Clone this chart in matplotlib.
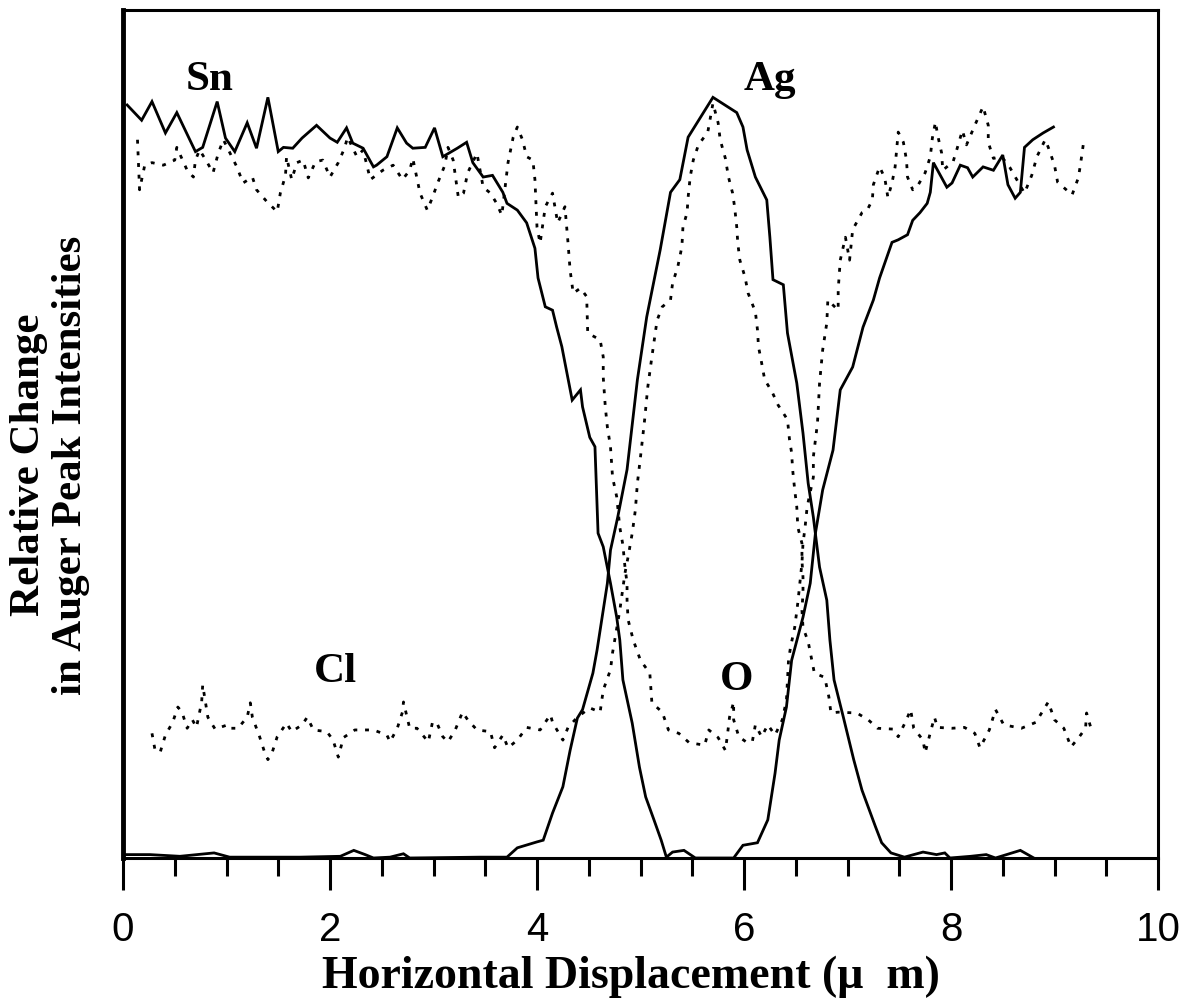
import matplotlib
matplotlib.use("Agg")
import matplotlib.pyplot as plt
from matplotlib.ticker import MultipleLocator

# Auger line scan across a Ag particle on tin oxide
# x in micrometres, y in % of axis height

sn_x = [0.04, 0.18, 0.28, 0.41, 0.52, 0.70, 0.77, 0.91, 0.99, 1.08, 1.20, 1.29, 1.40, 1.50,
        1.55, 1.64, 1.73, 1.87, 2.00, 2.07, 2.16, 2.22, 2.32, 2.42, 2.45, 2.55, 2.65, 2.74,
        2.80, 2.92, 3.01, 3.09, 3.23, 3.32, 3.38, 3.48, 3.57, 3.67, 3.71, 3.81, 3.90, 3.98,
        4.01, 4.08, 4.15, 4.19, 4.24, 4.27, 4.34, 4.42, 4.44, 4.51, 4.56, 4.59, 4.64, 4.71,
        4.77, 4.80, 4.83, 4.92, 4.99, 5.05, 5.13, 5.20, 5.25, 5.31, 5.42, 5.53, 5.90, 5.99,
        6.13, 6.23, 6.30, 6.34, 6.41, 6.46, 6.57, 6.64, 6.69, 6.76, 6.86, 6.93, 7.05, 7.15,
        7.25, 7.31, 7.43, 7.49, 7.58, 7.63, 7.70, 7.77, 7.80, 7.83, 7.96, 8.01, 8.09, 8.16,
        8.21, 8.31, 8.41, 8.50, 8.55, 8.62, 8.67, 8.71, 8.79, 8.89, 8.99]
sn_y = [88.8, 87.0, 89.2, 85.5, 87.9, 83.3, 83.8, 89.2, 84.9, 83.3, 86.7, 83.7, 89.7, 83.3,
        83.8, 83.7, 84.9, 86.4, 84.9, 84.4, 86.1, 84.3, 83.7, 81.5, 81.7, 82.7, 86.1, 84.3,
        83.7, 83.8, 86.1, 82.7, 83.7, 84.4, 82.0, 80.3, 80.5, 78.5, 77.2, 76.4, 74.9, 71.9,
        68.4, 65.0, 64.6, 62.6, 60.3, 58.4, 54.0, 55.2, 53.2, 49.6, 48.5, 38.3, 36.7, 32.4,
        28.4, 25.7, 21.0, 15.9, 10.7, 7.2, 4.5, 2.1, 0.1, 0.7, 0.9, 0.0, 0.0, 1.5,
        1.8, 4.5, 10.0, 13.9, 17.8, 23.3, 28.4, 32.4, 38.3, 43.4, 48.1, 55.2, 57.9, 62.6,
        65.8, 68.4, 72.6, 72.9, 73.5, 75.2, 76.1, 77.2, 78.5, 82.0, 79.1, 79.6, 81.7, 81.4,
        80.3, 81.5, 81.1, 82.9, 79.4, 77.8, 78.5, 83.8, 84.7, 85.5, 86.2]

ag_x = [0.02, 0.26, 0.55, 0.88, 1.03, 1.71, 2.10, 2.23, 2.34, 2.42, 2.58, 2.71, 2.77, 3.45,
        3.71, 3.81, 4.00, 4.06, 4.15, 4.25, 4.32, 4.39, 4.44, 4.54, 4.58, 4.68, 4.71, 4.78,
        4.87, 4.97, 5.06, 5.19, 5.29, 5.38, 5.46, 5.70, 5.93, 5.99, 6.03, 6.11, 6.22, 6.25,
        6.28, 6.38, 6.42, 6.51, 6.57, 6.62, 6.67, 6.73, 6.80, 6.83, 6.87, 6.96, 7.06, 7.14,
        7.27, 7.33, 7.42, 7.55, 7.73, 7.86, 7.94, 7.99, 8.19, 8.34, 8.43, 8.67, 8.80]
ag_y = [0.4, 0.4, 0.2, 0.6, 0.1, 0.1, 0.2, 0.9, 0.4, 0.0, 0.1, 0.5, 0.0, 0.1,
        0.1, 1.2, 1.9, 2.1, 5.3, 8.4, 12.7, 16.5, 17.5, 21.8, 24.5, 32.4, 36.3, 40.2,
        45.8, 56.4, 63.8, 71.7, 78.5, 80.0, 85.0, 89.7, 87.9, 86.2, 83.5, 80.3, 77.6, 73.2,
        68.2, 67.6, 61.9, 56.0, 50.1, 44.2, 40.2, 34.3, 30.4, 25.7, 21.0, 16.6, 11.6, 8.0,
        3.7, 1.8, 0.6, 0.1, 0.7, 0.4, 0.6, 0.0, 0.2, 0.4, 0.0, 0.9, 0.0]

o_x = [0.14, 0.16, 0.21, 0.28, 0.39, 0.50, 0.52, 0.62, 0.68, 0.70, 0.74, 0.81, 0.87, 0.92,
       0.97, 1.10, 1.16, 1.25, 1.29, 1.39, 1.49, 1.52, 1.57, 1.58, 1.63, 1.68, 1.74, 1.79,
       1.86, 1.93, 2.00, 2.08, 2.14, 2.17, 2.26, 2.32, 2.39, 2.51, 2.61, 2.70, 2.77, 2.80,
       2.87, 2.94, 2.99, 3.04, 3.11, 3.14, 3.19, 3.24, 3.29, 3.33, 3.42, 3.48, 3.55, 3.61,
       3.66, 3.72, 3.77, 3.81, 3.86, 3.90, 3.96, 3.98, 4.00, 4.03, 4.08, 4.15, 4.20, 4.27,
       4.30, 4.32, 4.35, 4.42, 4.48, 4.49, 4.61, 4.64, 4.64, 4.66, 4.68, 4.71, 4.73, 4.77,
       4.80, 4.83, 4.85, 4.87, 4.87, 4.88, 4.93, 5.00, 5.09, 5.11, 5.21, 5.27, 5.37, 5.47,
       5.62, 5.66, 5.75, 5.82, 5.84, 5.86, 5.90, 5.90, 5.95, 6.02, 6.08, 6.11, 6.17, 6.23,
       6.30, 6.37, 6.41, 6.43, 6.45, 6.49, 6.52, 6.54, 6.56, 6.57, 6.59, 6.61, 6.67, 6.67,
       6.71, 6.73, 6.76, 6.80, 6.81, 6.91, 6.91, 6.93, 6.98, 7.02, 7.05, 7.14, 7.19, 7.24,
       7.25, 7.31, 7.36, 7.39, 7.43, 7.46, 7.49, 7.54, 7.57, 7.58, 7.63, 7.67, 7.75, 7.80,
       7.82, 7.85, 7.87, 7.91, 7.92, 8.02, 8.06, 8.11, 8.15, 8.23, 8.31, 8.36, 8.36, 8.41,
       8.49, 8.57, 8.71, 8.78, 8.83, 8.91, 8.94, 9.00, 9.03, 9.17, 9.23, 9.25, 9.28, 9.31]
o_y = [84.7, 78.8, 81.7, 82.0, 81.7, 82.3, 83.8, 81.1, 80.3, 82.3, 83.5, 82.1, 80.8, 83.1,
       84.7, 81.5, 79.6, 80.3, 78.8, 77.4, 76.2, 78.4, 80.5, 82.7, 80.0, 82.0, 82.3, 80.2,
       82.1, 82.3, 80.3, 82.0, 83.7, 85.0, 82.7, 83.5, 80.0, 81.1, 81.7, 80.0, 81.1, 82.5,
       78.4, 76.4, 77.9, 79.6, 81.7, 83.8, 82.3, 77.9, 78.4, 80.8, 83.1, 79.1, 78.4, 77.2,
       75.8, 82.0, 85.0, 86.2, 84.7, 82.7, 82.3, 80.0, 74.4, 72.5, 76.8, 78.4, 74.9, 76.8,
       72.5, 69.3, 66.6, 67.2, 66.2, 61.9, 61.1, 59.1, 56.7, 53.2, 50.8, 48.5, 44.9, 42.6,
       39.0, 36.9, 34.3, 32.4, 30.4, 28.1, 25.7, 23.3, 21.8, 18.3, 17.2, 15.1, 14.7, 13.6,
       13.3, 15.1, 14.2, 12.7, 14.5, 16.6, 18.4, 16.3, 14.3, 13.7, 13.7, 15.7, 14.3, 15.7,
       14.5, 16.3, 18.6, 23.3, 24.9, 27.2, 30.1, 32.4, 34.8, 37.1, 39.0, 41.4, 44.9, 47.3,
       51.3, 56.0, 59.9, 63.1, 65.8, 64.6, 67.0, 70.5, 73.2, 70.5, 74.1, 76.1, 76.4, 77.6,
       79.4, 81.5, 80.2, 77.9, 79.6, 81.5, 85.6, 84.4, 82.3, 80.3, 78.8, 79.1, 80.8, 82.7,
       84.9, 86.8, 85.3, 83.1, 81.1, 82.1, 83.7, 85.8, 84.1, 86.4, 88.6, 86.4, 84.4, 82.5,
       82.7, 81.4, 78.4, 80.5, 82.7, 84.7, 83.8, 81.7, 79.7, 78.2, 80.2, 81.7, 84.3, 84.7]

cl_x = [0.28, 0.31, 0.36, 0.41, 0.48, 0.53, 0.57, 0.62, 0.67, 0.71, 0.76, 0.77, 0.82, 0.89,
        1.01, 1.03, 1.11, 1.20, 1.23, 1.25, 1.32, 1.37, 1.40, 1.44, 1.49, 1.58, 1.63, 1.73,
        1.78, 1.84, 1.97, 2.03, 2.08, 2.13, 2.24, 2.42, 2.55, 2.58, 2.65, 2.70, 2.71, 2.77,
        2.84, 2.95, 2.99, 3.03, 3.09, 3.14, 3.21, 3.28, 3.33, 3.42, 3.55, 3.59, 3.67, 3.72,
        3.81, 3.90, 4.03, 4.13, 4.15, 4.25, 4.30, 4.39, 4.51, 4.61, 4.64, 4.71, 4.73, 4.80,
        4.85, 4.88, 4.92, 4.95, 4.97, 5.00, 5.04, 5.07, 5.11, 5.16, 5.21, 5.29, 5.31, 5.36,
        5.40, 5.41, 5.45, 5.46, 5.48, 5.51, 5.56, 5.65, 5.70, 5.75, 5.77, 5.82, 5.85, 5.89,
        5.91, 5.93, 5.94, 5.96, 6.01, 6.04, 6.11, 6.13, 6.14, 6.17, 6.20, 6.27, 6.33, 6.42,
        6.44, 6.46, 6.47, 6.49, 6.51, 6.52, 6.56, 6.56, 6.57, 6.57, 6.56, 6.57, 6.62, 6.68,
        6.78, 6.82, 6.84, 6.91, 7.09, 7.20, 7.29, 7.44, 7.49, 7.57, 7.61, 7.64, 7.73, 7.75,
        7.79, 7.84, 7.87, 8.01, 8.13, 8.23, 8.28, 8.37, 8.43, 8.51, 8.68, 8.82, 8.94, 9.00,
        9.09, 9.16, 9.24, 9.30, 9.31, 9.35]
cl_y = [14.7, 12.7, 12.5, 14.5, 16.0, 17.8, 17.2, 15.3, 16.3, 15.4, 18.4, 20.4, 16.6, 15.2,
        15.7, 15.3, 15.3, 16.6, 18.3, 16.6, 14.3, 12.4, 11.6, 12.4, 14.3, 15.9, 14.9, 15.7,
        16.6, 15.1, 14.9, 13.9, 11.9, 14.2, 15.1, 15.1, 14.5, 13.7, 15.3, 17.2, 18.4, 15.3,
        15.3, 13.7, 16.0, 16.0, 14.3, 13.7, 15.1, 17.2, 16.3, 15.1, 14.9, 13.0, 14.5, 13.0,
        13.9, 15.4, 15.1, 16.9, 16.0, 13.9, 15.4, 16.6, 17.7, 17.2, 19.8, 22.2, 24.2, 29.2,
        33.6, 35.5, 38.3, 41.0, 44.2, 47.3, 51.7, 55.5, 59.1, 63.4, 65.0, 65.8, 67.8, 69.7,
        72.1, 74.4, 76.1, 77.9, 80.3, 82.3, 84.1, 85.6, 89.0, 86.7, 84.7, 82.5, 80.3, 78.4,
        76.7, 74.4, 72.5, 70.5, 68.5, 66.6, 64.4, 62.3, 60.3, 58.4, 56.4, 55.0, 53.4, 51.7,
        49.3, 47.8, 45.8, 43.4, 41.4, 39.0, 37.1, 35.1, 33.1, 31.3, 29.2, 27.2, 25.5, 21.8,
        21.3, 19.0, 17.1, 17.2, 17.1, 16.3, 15.3, 15.2, 14.3, 16.3, 17.5, 15.3, 13.9, 12.4,
        14.3, 16.6, 15.4, 15.3, 15.4, 14.7, 13.0, 15.1, 17.5, 15.7, 15.3, 16.0, 18.4, 16.3,
        15.3, 13.1, 14.3, 15.3, 17.1, 15.4]

labels = ["Sn", "Ag", "Cl", "O"]
label_x = [0.84, 6.25, 2.05, 5.93]
label_y = [91.7, 91.7, 21.9, 21.0]

serif = ["Liberation Serif", "DejaVu Serif"]
sans = ["Liberation Sans", "DejaVu Sans"]

fig = plt.figure(figsize=(12, 10.06), dpi=100)
ax = fig.add_axes([123/1200, 1 - 858/1006, (1158 - 123)/1200, (858 - 10)/1006])

ax.plot(sn_x, sn_y, color="black", lw=2.0, solid_joinstyle="miter")
ax.plot(ag_x, ag_y, color="black", lw=2.0, solid_joinstyle="miter")
ax.plot(o_x, o_y, color="black", lw=2.0, linestyle=(0, (1.4, 2.8)))
ax.plot(cl_x, cl_y, color="black", lw=2.0, linestyle=(0, (1.4, 2.8)))

for t, x, y in zip(labels, label_x, label_y):
    ax.text(x, y, t, fontsize=31, fontweight="bold", family=serif, ha="center", va="center")

ax.set_xlim(0, 10)
ax.set_ylim(0, 100)
ax.xaxis.set_major_locator(MultipleLocator(2))
ax.xaxis.set_minor_locator(MultipleLocator(0.5))
ax.set_yticks([])
ax.tick_params(axis="x", which="major", direction="out", length=23, width=2.2, pad=15)
ax.tick_params(axis="x", which="minor", direction="out", length=13, width=2.2)
for lab in ax.get_xticklabels():
    lab.set_family(sans)
    lab.set_fontsize(29)

for side in ["top", "right", "bottom"]:
    ax.spines[side].set_linewidth(2.2)
ax.spines["left"].set_linewidth(3.5)

ax.set_xlabel("Horizontal Displacement (\u03bc  m)", fontsize=33, fontweight="bold",
              family=serif)
ax.xaxis.set_label_coords(0.491, -0.115, transform=ax.transAxes)
ax.xaxis.label.set_va("top")
fig.text(50/1200, 1 - 465/1006, "Relative Change\nin Auger Peak Intensities",
         rotation=90, ha="center", va="center", multialignment="center",
         fontsize=31, fontweight="bold", family=serif, linespacing=1.12)

fig.savefig("out.png", dpi=100)
